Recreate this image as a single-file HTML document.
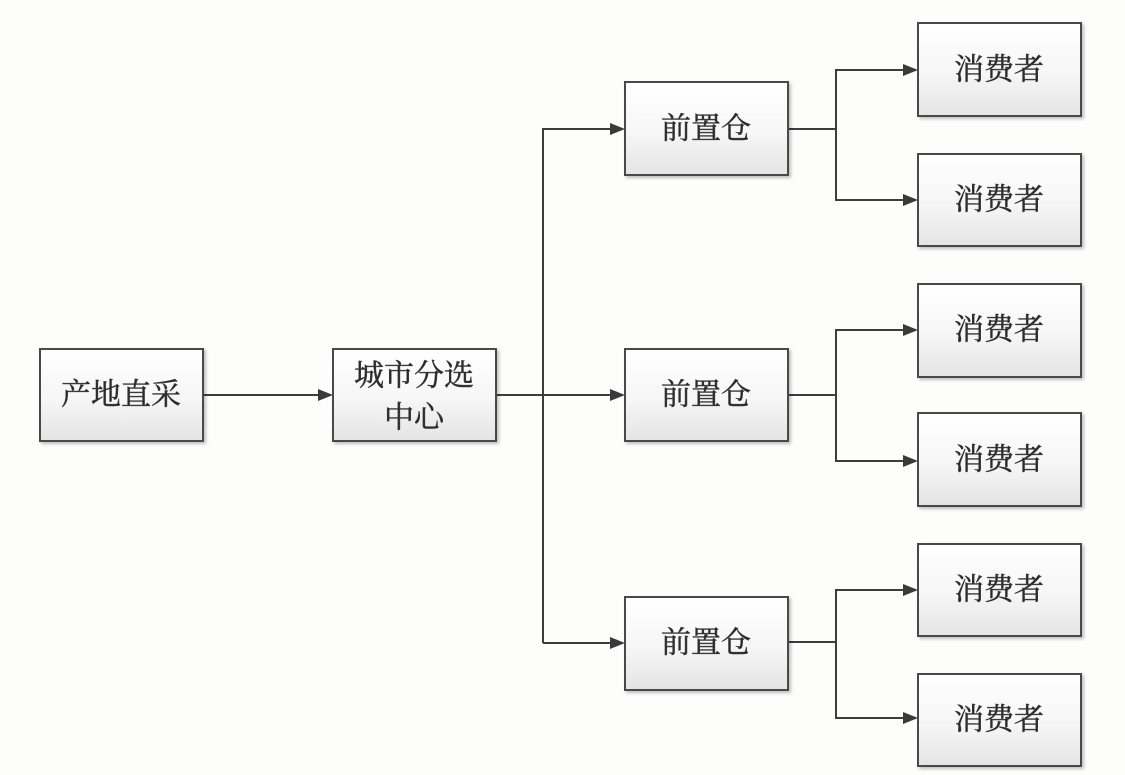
<!DOCTYPE html>
<html>
<head>
<meta charset="utf-8">
<style>
  html,body{margin:0;padding:0;background:#fdfdfc;}
  body{width:1125px;height:775px;overflow:hidden;}
  svg{display:block;}
  text{font-family:"Liberation Serif","Noto Serif CJK SC","Noto Sans CJK SC",serif;font-size:30px;fill:#2b2b2b;stroke:#3a3a3a;stroke-width:0.5;text-anchor:middle;dominant-baseline:central;}
</style>
</head>
<body>
<svg width="1125" height="775" viewBox="0 0 1125 775" xmlns="http://www.w3.org/2000/svg">
  <defs>
    <linearGradient id="g" x1="0" y1="0" x2="0" y2="1">
      <stop offset="0" stop-color="#ffffff"/>
      <stop offset="0.55" stop-color="#f6f6f6"/>
      <stop offset="1" stop-color="#e4e4e4"/>
    </linearGradient>
    <filter id="sh" x="-10%" y="-10%" width="130%" height="130%">
      <feGaussianBlur in="SourceAlpha" stdDeviation="1.5"/>
      <feOffset dx="2" dy="2"/>
      <feComponentTransfer><feFuncA type="linear" slope="0.25"/></feComponentTransfer>
      <feMerge><feMergeNode/><feMergeNode in="SourceGraphic"/></feMerge>
    </filter>
  </defs>

  <rect width="1125" height="775" fill="#fdfdfc"/>

  <!-- connectors -->
  <g stroke="#3d3d3d" stroke-width="2" fill="none">
    <line x1="203" y1="395" x2="322" y2="395"/>
    <line x1="496" y1="395" x2="614" y2="395"/>
    <polyline points="543,643 543,129 614,129"/>
    <line x1="543" y1="643" x2="614" y2="643"/>
    <line x1="788" y1="129" x2="836" y2="129"/>
    <polyline points="906,70 836,70 836,200 906,200"/>
    <line x1="788" y1="395" x2="836" y2="395"/>
    <polyline points="906,330 836,330 836,461 906,461"/>
    <line x1="788" y1="642" x2="836" y2="642"/>
    <polyline points="906,590 836,590 836,718 906,718"/>
  </g>

  <!-- arrowheads -->
  <g fill="#3a3a3a">
    <polygon points="333,395 318,389 318,401"/>
    <polygon points="625,395 610,389 610,401"/>
    <polygon points="625,129 610,123 610,135"/>
    <polygon points="625,643 610,637 610,649"/>
    <polygon points="918,70 903,64 903,76"/>
    <polygon points="918,200 903,194 903,206"/>
    <polygon points="918,330 903,324 903,336"/>
    <polygon points="918,461 903,455 903,467"/>
    <polygon points="918,590 903,584 903,596"/>
    <polygon points="918,718 903,712 903,724"/>
  </g>

  <!-- boxes -->
  <g fill="url(#g)" stroke="#4a4a4a" stroke-width="2" filter="url(#sh)">
    <rect x="40" y="349" width="163" height="92"/>
    <rect x="333" y="349" width="163" height="92"/>
    <rect x="625" y="82" width="163" height="93"/>
    <rect x="625" y="349" width="163" height="92"/>
    <rect x="625" y="597" width="163" height="93"/>
    <rect x="918" y="23" width="163" height="93"/>
    <rect x="918" y="154" width="163" height="92"/>
    <rect x="918" y="284" width="163" height="93"/>
    <rect x="918" y="413" width="163" height="93"/>
    <rect x="918" y="544" width="163" height="92"/>
    <rect x="918" y="674" width="163" height="92"/>
  </g>

  <!-- labels -->
  <text x="121" y="395">产地直采</text>
  <text x="414" y="376">城市分选</text>
  <text x="414" y="418">中心</text>
  <text x="706" y="129">前置仓</text>
  <text x="706" y="395">前置仓</text>
  <text x="706" y="643">前置仓</text>
  <text x="999" y="70">消费者</text>
  <text x="999" y="200">消费者</text>
  <text x="999" y="330">消费者</text>
  <text x="999" y="460">消费者</text>
  <text x="999" y="590">消费者</text>
  <text x="999" y="720">消费者</text>
</svg>
</body>
</html>
